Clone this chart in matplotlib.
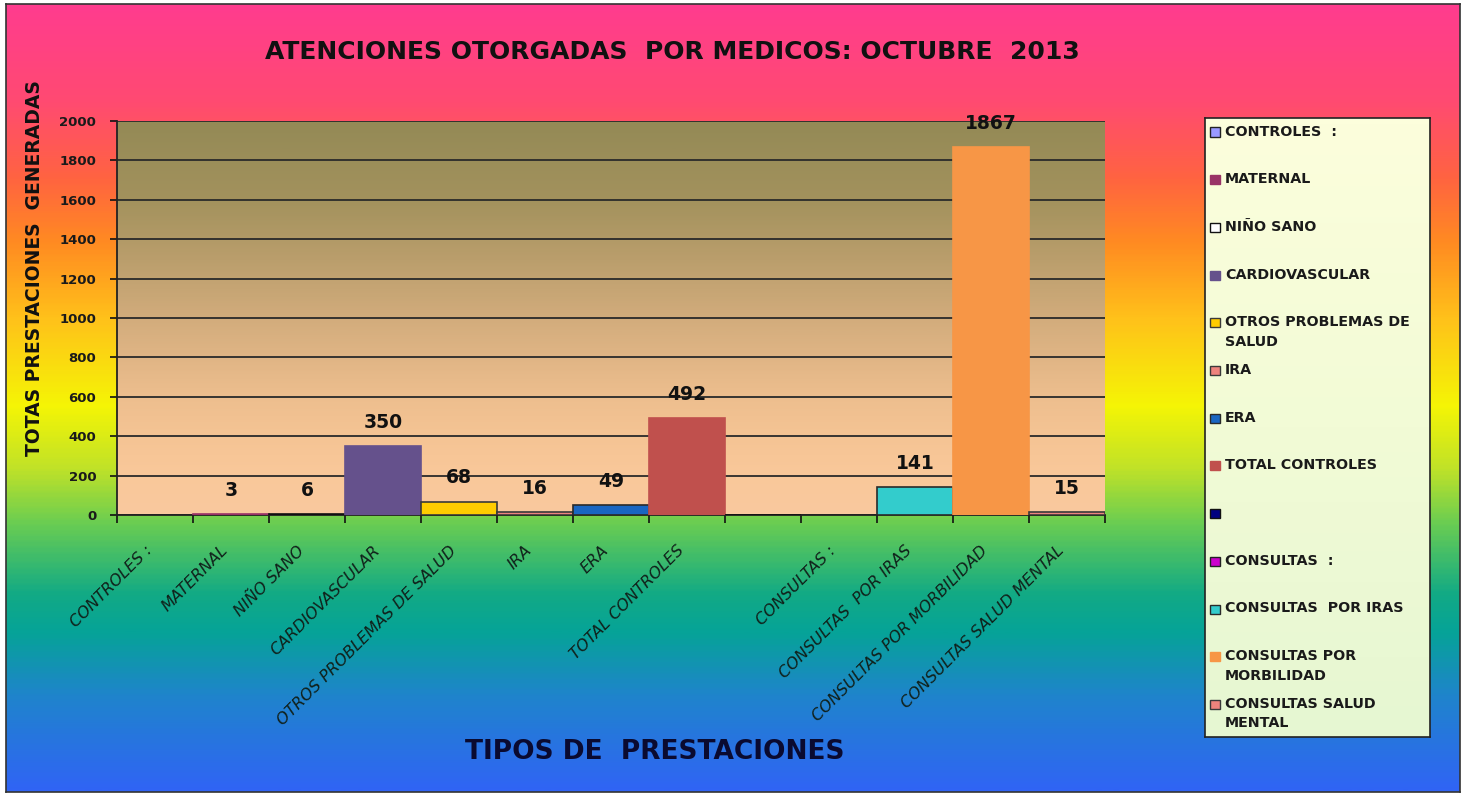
import numpy as np
import matplotlib
matplotlib.use('Agg')
import matplotlib.pyplot as plt
from matplotlib.colors import LinearSegmentedColormap
from matplotlib.patches import Rectangle

# data
categories = ['CONTROLES :', 'MATERNAL', 'NIÑO SANO', 'CARDIOVASCULAR', 'OTROS PROBLEMAS DE SALUD',
              'IRA', 'ERA', 'TOTAL CONTROLES', '', 'CONSULTAS :', 'CONSULTAS  POR IRAS',
              'CONSULTAS POR MORBILIDAD', 'CONSULTAS SALUD MENTAL']
legend_labels = ['CONTROLES  :', 'MATERNAL', 'NIÑO SANO', 'CARDIOVASCULAR', 'OTROS PROBLEMAS DE\nSALUD',
                 'IRA', 'ERA', 'TOTAL CONTROLES', '', 'CONSULTAS  :', 'CONSULTAS  POR IRAS',
                 'CONSULTAS POR\nMORBILIDAD', 'CONSULTAS SALUD\nMENTAL']
values = [0, 3, 6, 350, 68, 16, 49, 492, 0, 0, 141, 1867, 15]
colors = ['#9999FF', '#993366', '#FFFFFF', '#65518C', '#FFCC00', '#EE837D', '#1A66C2',
          '#C0504D', '#000080', '#CC00CC', '#33CCCC', '#F79646', '#EE837D']
edges = ['#222222', '#993366', '#111111', '#65518C', '#3a3a3a', '#3a3a3a', '#2a2a2a',
         '#C0504D', '#111111', '#222222', '#2a2a2a', '#F79646', '#3a3a3a']

W, H = 1466, 796
fig = plt.figure(figsize=(W / 100, H / 100), dpi=100, facecolor='white')

# rainbow background inside the frame
bg = fig.add_axes([6 / W, 4 / H, 1454 / W, 788 / H])
bg_cmap = LinearSegmentedColormap.from_list('bg', [
    (0.0, '#FF3C8E'), (0.12, '#FF4A72'), (0.22, '#FF6440'), (0.30, '#FF8A22'),
    (0.40, '#FFC21A'), (0.51, '#F5F505'), (0.59, '#C0E228'), (0.66, '#6ACD52'),
    (0.75, '#12AA85'), (0.80, '#06A398'), (0.88, '#1F84CC'), (1.0, '#3064F5')])
bg.imshow(np.linspace(0, 1, 400).reshape(-1, 1), cmap=bg_cmap, aspect='auto',
          extent=[0, 1, 1, 0])
bg.set_xticks([])
bg.set_yticks([])
for s in bg.spines.values():
    s.set_color('#333333')
    s.set_linewidth(1.2)

# plot area
ax = fig.add_axes([117 / W, 1 - 515 / H, 988 / W, 394 / H])
ax.set_xlim(-0.5, 12.5)
ax.set_ylim(0, 2000)
pa_cmap = LinearSegmentedColormap.from_list('pa', [
    (0.0, '#FAC99E'), (0.1, '#F9C89A'), (0.2, '#F5C494'), (0.3, '#EDBE8E'),
    (0.4, '#E0B585'), (0.5, '#D2AC7C'), (0.65, '#BA9E6C'), (0.8, '#A3925D'), (1.0, '#948A56')])
ax.imshow(np.linspace(1, 0, 300).reshape(-1, 1), cmap=pa_cmap, aspect='auto',
          extent=[-0.5, 12.5, 0, 2000], zorder=0)
ax.set_axisbelow(True)
ax.yaxis.grid(True, color='#2a2a2a', linewidth=1.3)

x = np.arange(len(values))
ax.bar(x, values, width=1.0, color=colors, edgecolor=edges, linewidth=1.2, zorder=3)

for xi, v in zip(x, values):
    if v > 0:
        ax.annotate(str(v), (xi, v), xytext=(0, 17), textcoords='offset points',
                    ha='center', va='center', fontsize=13.5, fontweight='bold', color='#111111')

ax.set_yticks(range(0, 2001, 200))
ax.tick_params(axis='y', length=5, width=1.2, pad=10, colors='#111111')
for lbl in ax.get_yticklabels():
    lbl.set_fontweight('bold')
    lbl.set_fontsize(9.5)
    lbl.set_color('#1a1a1a')

ax.set_xticks(x)
ax.set_xticklabels(categories, rotation=45, ha='right', va='top', fontsize=11.5,
                   fontstyle='italic', color='#10201a')
ax.tick_params(axis='x', length=0, pad=20)
ax.set_xticks(np.arange(-0.5, 13, 1), minor=True)
ax.tick_params(axis='x', which='minor', length=6, width=1.2, colors='#111111')

ax.spines['top'].set_visible(False)
ax.spines['right'].set_visible(False)
ax.spines['left'].set_color('#222222')
ax.spines['bottom'].set_color('#222222')
ax.spines['left'].set_linewidth(1.3)
ax.spines['bottom'].set_linewidth(1.3)

# titles
fig.text(672 / W, 1 - 52 / H, 'ATENCIONES OTORGADAS  POR MEDICOS: OCTUBRE  2013',
         ha='center', va='center', fontsize=18, fontweight='bold', color='#111111')
fig.text(35 / W, 1 - 268 / H, 'TOTAS PRESTACIONES  GENERADAS', rotation=90,
         ha='center', va='center', fontsize=13.5, fontweight='bold', color='#111111')
fig.text(655 / W, 1 - 752 / H, 'TIPOS DE  PRESTACIONES', ha='center', va='center',
         fontsize=19, fontweight='bold', color='#0a0a30')

# legend box
lx0, ly0, lx1, ly1 = 1205, 118, 1430, 737
lg = fig.add_axes([lx0 / W, 1 - ly1 / H, (lx1 - lx0) / W, (ly1 - ly0) / H])
lg_cmap = LinearSegmentedColormap.from_list('lg', ['#FCFEDC', '#F2FBD6', '#E6F7D2'])
lg.imshow(np.linspace(0, 1, 100).reshape(-1, 1), cmap=lg_cmap, aspect='auto',
          extent=[0, 1, 0, 1])
lg.set_xlim(0, 1)
lg.set_ylim(0, 1)
lg.set_xticks([])
lg.set_yticks([])
for s in lg.spines.values():
    s.set_color('#222222')
    s.set_linewidth(1.2)

lw, lh = lx1 - lx0, ly1 - ly0
for i, (lab, c, e) in enumerate(zip(legend_labels, colors, edges)):
    ypx = 132 + i * 47.7
    yax = 1 - (ypx - ly0) / lh
    lg.add_patch(Rectangle(((1210 - lx0) / lw, yax - 4.5 / lh), 10 / lw, 9 / lh,
                           facecolor=c, edgecolor=e, linewidth=1, zorder=3))
    lg.text((1225 - lx0) / lw, yax + 7.5 / lh, lab, ha='left', va='top', fontsize=10.3,
            fontweight='bold', color='#1a1a1a', linespacing=1.5, zorder=4)

fig.savefig('out.png', dpi=100, facecolor='white')
